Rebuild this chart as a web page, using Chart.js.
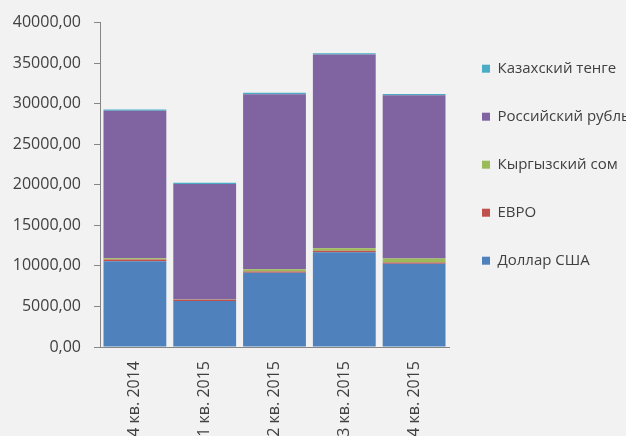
<!DOCTYPE html>
<html lang="ru">
<head>
  <meta charset="UTF-8">
  <title>Структура по валютам</title>
  <script src="https://cdn.jsdelivr.net/npm/chart.js"></script>
  <style>
    html, body { margin: 0; padding: 0; background: #f2f2f2; }
    #wrap { width: 626px; height: 436px; }
  </style>
</head>
<body>
  <div id="wrap"><canvas id="currencyChart"></canvas></div>

  <script>
    const quarters = ['4 кв. 2014', '1 кв. 2015', '2 кв. 2015', '3 кв. 2015', '4 кв. 2015'];
    const usd = [10580, 5680, 9160, 11680, 10260];
    const eur = [200, 150, 150, 200, 160];
    const kgs = [150, 20, 280, 290, 490];
    const rub = [18210, 14250, 21580, 23900, 20140];
    const kzt = [130, 150, 170, 160, 150];

    const fmt = v => v.toFixed(2).replace('.', ',');

    const ctx = document.getElementById('currencyChart').getContext('2d');
    new Chart(ctx, {
      type: 'bar',
      data: {
        labels: quarters,
        datasets: [
          { label: 'Доллар США', data: usd, backgroundColor: '#4f81bd' },
          { label: 'ЕВРО', data: eur, backgroundColor: '#c0504d' },
          { label: 'Кыргызский сом', data: kgs, backgroundColor: '#9bbb59' },
          { label: 'Российский рубль', data: rub, backgroundColor: '#8064a2' },
          { label: 'Казахский тенге', data: kzt, backgroundColor: '#4bacc6' }
        ]
      },
      options: {
        responsive: true,
        maintainAspectRatio: false,
        animation: false,
        layout: { padding: { top: 14, right: 0, left: 0, bottom: 0 } },
        datasets: { bar: { categoryPercentage: 1, barPercentage: 0.9 } },
        plugins: {
          tooltip: { enabled: false },
          legend: {
            position: 'right',
            align: 'start',
            reverse: true,
            maxWidth: 177,
            title: { display: true, text: '', font: { size: 1 }, padding: { top: 10, bottom: 3 } },
            labels: {
              boxWidth: 8,
              boxHeight: 8,
              padding: 33,
              color: '#404040',
              font: { family: 'Open Sans', size: 15 }
            }
          }
        },
        scales: {
          x: {
            stacked: true,
            grid: { display: false },
            border: { display: true, color: '#868686' },
            ticks: {
              color: '#404040',
              font: { family: 'Open Sans', size: 16 },
              minRotation: 90,
              maxRotation: 90,
              padding: 6
            },
            afterFit: scale => { scale.height = 89; }
          },
          y: {
            stacked: true,
            min: 0,
            max: 40000,
            grid: { drawOnChartArea: false, drawTicks: true, tickLength: 6, color: '#868686' },
            border: { display: true, color: '#868686' },
            ticks: {
              stepSize: 5000,
              color: '#404040',
              font: { family: 'Open Sans', size: 16 },
              padding: 13,
              callback: v => fmt(v)
            },
            afterFit: scale => { scale.width = 100; }
          }
        }
      }
    });
  </script>
</body>
</html>
